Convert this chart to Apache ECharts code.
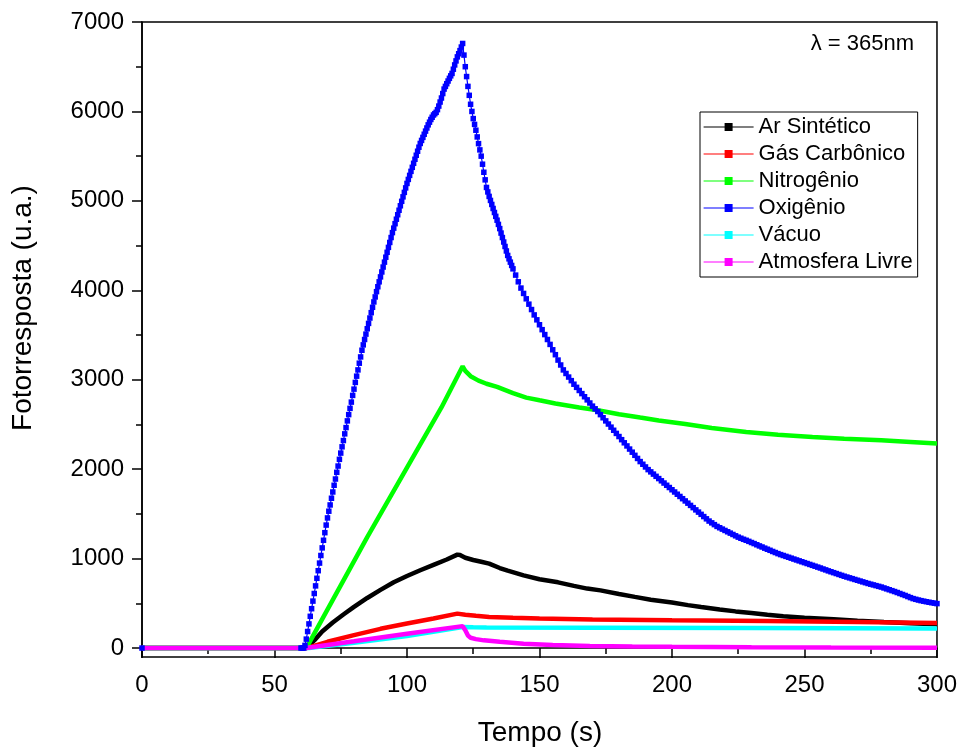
<!DOCTYPE html>
<html>
<head>
<meta charset="utf-8">
<script src="https://cdn.jsdelivr.net/npm/echarts@6/dist/echarts.min.js"></script>
<style>
html, body { margin: 0; padding: 0; background: #fff; }
#fotoChart { width: 960px; height: 749px; }
</style>
</head>
<body>
<div id="fotoChart"></div>
<script>
// eixo x: tempo (s), eixo y: fotorresposta (u.a.)
var yTicks = [0, 1000, 2000, 3000, 4000, 5000, 6000, 7000];
var yMinorTicks = [500, 1500, 2500, 3500, 4500, 5500, 6500];

// Ar Sintético
var arTempo = [0, 62, 65, 68, 72, 76, 80, 85, 90, 95, 100, 105, 110, 115, 119, 120, 122, 125, 128, 131, 135, 138, 144, 150, 157, 163, 168, 173, 180, 186, 192, 200, 206, 211, 218, 224, 230, 236, 242, 250, 261, 270, 280, 290, 300];
var arValores = [0, 0, 85, 185, 285, 375, 460, 560, 650, 735, 805, 870, 930, 990, 1045, 1040, 1010, 985, 965, 944, 895, 865, 813, 770, 735, 695, 665, 645, 605, 572, 541, 510, 480, 459, 430, 410, 392, 372, 355, 340, 321, 305, 291, 278, 265];

// Gás Carbônico
var co2Tempo = [0, 62, 70, 80, 90, 100, 110, 119, 122, 126, 131, 140, 150, 170, 200, 236, 270, 300];
var co2Valores = [0, 0, 70, 145, 215, 275, 330, 385, 372, 360, 347, 338, 330, 318, 310, 302, 292, 281];

// Nitrogênio
var n2Tempo = [0, 62, 85, 113, 121, 122, 124, 127, 130, 134, 140, 145, 150, 156, 165, 172, 180, 188, 195, 205, 215, 228, 240, 253, 265, 279, 290, 300];
var n2Valores = [0, 0, 1240, 2690, 3150, 3100, 3040, 2990, 2955, 2920, 2850, 2800, 2770, 2735, 2690, 2659, 2615, 2577, 2545, 2505, 2460, 2416, 2385, 2360, 2340, 2323, 2305, 2288];

// Oxigênio: de 60 s a 140 s um ponto a cada 0,5 s
var o2InicioA = 60;
var o2ValoresA = [
  0, 0, 0, 30, 100, 185, 270, 355, 440, 525,
  610, 695, 780, 865, 950, 1035, 1120, 1205, 1290, 1375,
  1455, 1530, 1600, 1675, 1745, 1820, 1890, 1965, 2035, 2110,
  2180, 2250, 2320, 2395, 2465, 2540, 2610, 2680, 2750, 2825,
  2895, 2970, 3040, 3110, 3185, 3255, 3330, 3390, 3450, 3510,
  3570, 3630, 3690, 3750, 3810, 3870, 3926, 3985, 4040, 4095,
  4150, 4205, 4260, 4315, 4370, 4425, 4480, 4535, 4590, 4645,
  4695, 4745, 4795, 4845, 4895, 4945, 4995, 5045, 5095, 5145,
  5195, 5240, 5285, 5330, 5375, 5420, 5465, 5510, 5555, 5600,
  5642, 5676, 5710, 5745, 5780, 5815, 5850, 5880, 5910, 5935,
  5960, 5975, 5990, 6020, 6060, 6105, 6150, 6200, 6250, 6280,
  6310, 6340, 6370, 6398, 6425, 6472, 6520, 6565, 6610, 6645,
  6680, 6720, 6760, 6630, 6500, 6390, 6280, 6180, 6080, 6000,
  5920, 5855, 5790, 5715, 5640, 5570, 5500, 5410, 5320, 5235,
  5150, 5100, 5050, 5005, 4960, 4915, 4870, 4827, 4784, 4737,
  4690, 4640, 4590, 4540, 4490, 4440, 4390, 4352, 4315, 4278,
  4240
];
// Oxigênio: de 141 s a 300 s um ponto por segundo
var o2InicioB = 141;
var o2ValoresB = [
  4170, 4095, 4025, 3965, 3905, 3845, 3785, 3725, 3670,
  3615, 3560, 3505, 3450, 3395, 3335, 3280, 3220, 3165, 3110,
  3070, 3030, 2990, 2950, 2915, 2880, 2845, 2810, 2775, 2740,
  2705, 2675, 2645, 2610, 2575, 2540, 2505, 2470, 2435, 2400,
  2365, 2330, 2295, 2260, 2225, 2190, 2155, 2120, 2085, 2055,
  2025, 1995, 1970, 1945, 1920, 1895, 1870, 1845, 1820, 1795,
  1770, 1745, 1720, 1695, 1670, 1645, 1620, 1595, 1570, 1545,
  1520, 1495, 1470, 1445, 1420, 1400, 1380, 1360, 1345, 1330,
  1315, 1300, 1285, 1270, 1255, 1240, 1228, 1216, 1205, 1193,
  1180, 1168, 1155, 1142, 1130, 1117, 1105, 1093, 1080, 1068,
  1056, 1045, 1035, 1025, 1015, 1005, 995, 985, 975, 965,
  955, 945, 935, 925, 915, 905, 895, 884, 874, 863,
  853, 843, 833, 823, 813, 803, 794, 785, 776, 767,
  758, 749, 740, 731, 722, 714, 706, 698, 690, 682,
  672, 662, 652, 642, 632, 621, 610, 599, 588, 576,
  564, 553, 545, 537, 530, 524, 518, 512, 507, 502,
  497
];

// Vácuo
var vacuoTempo = [0, 63, 80, 100, 121, 125, 130, 170, 230, 300];
var vacuoValores = [0, 0, 60, 135, 235, 232, 230, 228, 224, 218];

// Atmosfera Livre
var atmTempo = [0, 62, 80, 100, 121, 122, 123, 124, 126, 129, 135, 144, 155, 169, 185, 200, 230, 260, 300];
var atmValores = [0, 0, 75, 160, 245, 200, 140, 115, 100, 86, 70, 49, 35, 22, 18, 15, 10, 7, 4];

function pares(t, v) {
  var out = [];
  for (var i = 0; i < t.length; i++) out.push([t[i], v[i]]);
  return out;
}

var o2Dados = [[0, 0]];
for (var i = 0; i < o2ValoresA.length; i++) o2Dados.push([o2InicioA + i * 0.5, o2ValoresA[i]]);
for (var j = 0; j < o2ValoresB.length; j++) o2Dados.push([o2InicioB + j, o2ValoresB[j]]);

var fonte = '"Liberation Sans", Arial, sans-serif';

function linhaGrossa(nome, cor, dados) {
  return {
    name: nome, type: 'line', data: dados,
    symbol: 'rect', showSymbol: false, smooth: false,
    lineStyle: { color: cor, width: 4.5 },
    itemStyle: { color: cor },
    emphasis: { disabled: true }
  };
}

var chart = echarts.init(document.getElementById('fotoChart'));
chart.setOption({
  animation: false,
  backgroundColor: '#fff',
  textStyle: { fontFamily: fonte },
  title: {
    text: 'λ = 365nm', right: 41, top: 28,
    textStyle: { fontSize: 22, fontWeight: 'normal', color: '#000', fontFamily: fonte }
  },
  legend: {
    orient: 'vertical', left: 700, top: 112,
    selectedMode: false,
    borderColor: '#000', borderWidth: 1,
    padding: [4, 5, 4, 3],
    itemWidth: 50, itemHeight: 10, itemGap: 5,
    lineStyle: { width: 1.2 },
    textStyle: { fontSize: 22, lineHeight: 22, color: '#000', fontFamily: fonte },
    data: ['Ar Sintético', 'Gás Carbônico', 'Nitrogênio', 'Oxigênio', 'Vácuo', 'Atmosfera Livre']
  },
  grid: {
    left: 142, right: 23, top: 22, bottom: 92,
    show: true, borderColor: '#000', borderWidth: 1.5
  },
  xAxis: {
    type: 'value', min: 0, max: 300, interval: 50,
    axisLine: { lineStyle: { color: '#000', width: 1.5 } },
    axisTick: { inside: false, length: 10, lineStyle: { color: '#000', width: 1.5 } },
    minorTick: { show: true, splitNumber: 2, length: 6, lineStyle: { color: '#000', width: 1.5 } },
    splitLine: { show: false },
    axisLabel: { color: '#000', fontSize: 24, margin: 16, fontFamily: fonte }
  },
  yAxis: [{
    type: 'value', min: -100, max: 7000,
    axisLine: { show: true, lineStyle: { color: '#000', width: 1.5 } },
    axisTick: { show: true, inside: false, length: 10, customValues: yTicks, lineStyle: { color: '#000', width: 1.5 } },
    splitLine: { show: false },
    axisLabel: {
      color: '#000', fontSize: 24, margin: 18, customValues: yTicks, fontFamily: fonte,
      formatter: function (v) { return String(v); }
    }
  }, {
    type: 'value', min: -100, max: 7000, position: 'left',
    axisLine: { show: false },
    axisTick: { show: true, inside: false, length: 6, customValues: yMinorTicks, lineStyle: { color: '#000', width: 1.5 } },
    axisLabel: { show: false },
    splitLine: { show: false }
  }],
  graphic: [{
    type: 'text', x: 23, y: 308, rotation: Math.PI / 2,
    style: { text: 'Fotorresposta (u.a.)', font: '28px ' + fonte, fill: '#000', align: 'center', verticalAlign: 'middle' }
  }, {
    type: 'text', x: 540, y: 733,
    style: { text: 'Tempo (s)', font: '28px ' + fonte, fill: '#000', align: 'center', verticalAlign: 'middle' }
  }],
  series: [
    linhaGrossa('Ar Sintético', '#000000', pares(arTempo, arValores)),
    linhaGrossa('Gás Carbônico', '#ff0000', pares(co2Tempo, co2Valores)),
    linhaGrossa('Nitrogênio', '#00ff00', pares(n2Tempo, n2Valores)),
    {
      name: 'Oxigênio', type: 'line', data: o2Dados,
      symbol: 'rect', symbolSize: 5.5, showSymbol: true, showAllSymbol: true,
      lineStyle: { color: '#0000ff', width: 1.2 },
      itemStyle: { color: '#0000ff' },
      emphasis: { disabled: true }
    },
    linhaGrossa('Vácuo', '#00ffff', pares(vacuoTempo, vacuoValores)),
    linhaGrossa('Atmosfera Livre', '#ff00ff', pares(atmTempo, atmValores))
  ]
});
</script>
</body>
</html>
